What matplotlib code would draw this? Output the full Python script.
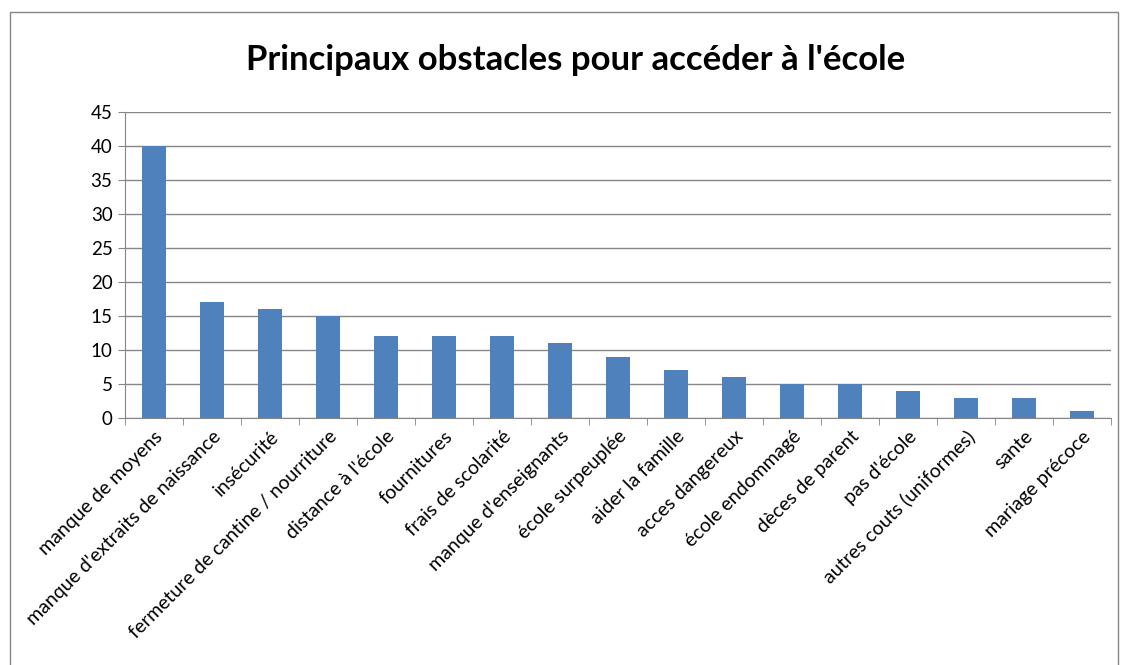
import matplotlib
matplotlib.use("Agg")
import matplotlib.pyplot as plt
from matplotlib.patches import Rectangle
import numpy as np

categories = [
    "manque de moyens", "manque d'extraits de naissance", "insécurité",
    "fermeture de cantine / nourriture", "distance à l'école", "fournitures",
    "frais de scolarité", "manque d'enseignants", "école surpeuplée",
    "aider la famille", "acces dangereux", "école endommagé",
    "dèces de parent", "pas d'école", "autres couts (uniformes)",
    "sante", "mariage précoce",
]
values = [40, 17, 16, 15, 12, 12, 12, 11, 9, 7, 6, 5, 5, 4, 3, 3, 1]
yticks = [0, 5, 10, 15, 20, 25, 30, 35, 40, 45]

plt.rcParams["font.family"] = ["Lato", "DejaVu Sans"]

fig = plt.figure(figsize=(11.3, 6.65), dpi=100)
ax = fig.add_axes([125 / 1130, 1 - 418 / 665, (1111 - 125) / 1130, (418 - 112) / 665])

x = np.arange(len(categories))
ax.bar(x, values, width=0.42, color="#4F81BD", zorder=3)

ax.set_xlim(-0.5, len(categories) - 0.5)
ax.set_ylim(0, 45)
ax.set_yticks(yticks)
ax.set_yticklabels([str(v) for v in yticks], fontsize=13.5)
ax.grid(axis="y", color="#868686", linewidth=1, zorder=0)

# labels at category centres, tick marks at boundaries
ax.set_xticks(x)
ax.set_xticklabels(categories, rotation=45, ha="right", rotation_mode="anchor", fontsize=14)
ax.tick_params(axis="x", which="major", length=0, pad=7)
ax.set_xticks(np.arange(-0.5, len(categories)), minor=True)
ax.tick_params(axis="x", which="minor", length=5, color="#868686")
ax.tick_params(axis="y", length=5, color="#868686", pad=4)

for side in ["top", "right"]:
    ax.spines[side].set_visible(False)
ax.spines["left"].set_color("#868686")
ax.spines["bottom"].set_color("#868686")

fig.text(576 / 1130, 1 - 60 / 665, "Principaux obstacles pour accéder à l'école",
         ha="center", va="center", fontsize=25, fontweight="bold")

# outer chart border
fig.patches.append(Rectangle((10 / 1130, -0.05), (1118 - 10) / 1130, 1.05 - 12 / 665,
                             transform=fig.transFigure, fill=False,
                             edgecolor="#868686", linewidth=1))

fig.savefig("out.png", dpi=100, facecolor="white")
